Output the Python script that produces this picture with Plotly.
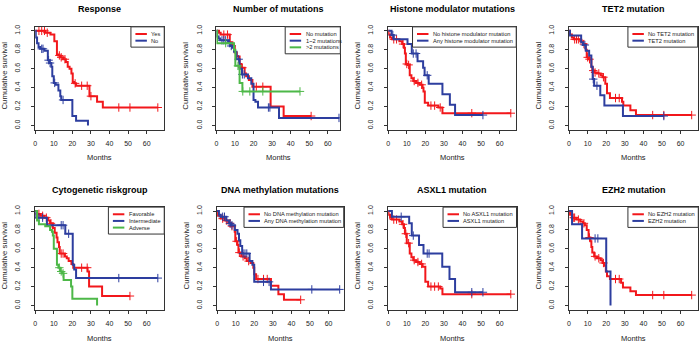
import numpy as np
import plotly.graph_objects as go

W, H = 700, 347
FONT = "Liberation Sans, Arial, Helvetica, sans-serif"
RED, BLUE, GREEN = "#f2171b", "#2d3e9f", "#4db848"
TXT = "#222222"

# ---------------- data ----------------
# Panel 1: Response
resp_yes_t = [0, 5.5, 8.2, 10.3, 11.7, 12.5, 13.5, 15, 16.5, 17.5, 18.5, 19.5, 20.2, 21, 22, 29.2, 33.3, 36.4]
resp_yes_s = [1.0, 0.98, 0.96, 0.89, 0.75, 0.74, 0.72, 0.70, 0.67, 0.62, 0.60, 0.55, 0.46, 0.445, 0.42, 0.31, 0.25, 0.19]
resp_yes_c = [2, 3.5, 5, 6.5, 13, 14, 16, 21.5, 25, 28, 30, 45, 51, 66]
resp_yes_end = 66
resp_no_t = [0, 0.3, 1, 1.8, 2.7, 4.9, 6.8, 7.8, 8.7, 9.2, 10, 11, 12.5, 13.5, 14, 20, 22, 28.4]
resp_no_s = [1.0, 0.93, 0.87, 0.83, 0.81, 0.79, 0.69, 0.66, 0.62, 0.52, 0.45, 0.43, 0.37, 0.31, 0.27, 0.10, 0.05, 0.0]
resp_no_c = [3.5, 4.2, 7.2, 8, 10.5, 15]
resp_no_end = 28.4

# Panel 2: Number of mutations
nmut0_t = [0, 1.4, 2.3, 7.2, 8.6, 9.9, 11, 12.5, 13.4, 15.2, 16, 17.5, 19.4, 29.2, 36.2]
nmut0_s = [1.0, 0.98, 0.96, 0.88, 0.84, 0.77, 0.73, 0.65, 0.61, 0.55, 0.52, 0.48, 0.41, 0.20, 0.10]
nmut0_c = [4, 6, 14, 21.5, 25, 51]
nmut0_end = 51
nmut12_t = [0, 0.4, 1.2, 2, 6.3, 7.7, 8.5, 9.5, 10.8, 12.5, 13.8, 17, 18.8, 20, 21, 22.4, 33.7]
nmut12_s = [1.0, 0.94, 0.92, 0.90, 0.87, 0.84, 0.82, 0.78, 0.70, 0.60, 0.54, 0.50, 0.44, 0.27, 0.25, 0.19, 0.08]
nmut12_c = [3, 4, 5, 7, 8, 12, 14, 15, 28, 28.8, 66]
nmut12_end = 66
nmut3_t = [0, 0.4, 9.5, 10.2, 12.5, 14]
nmut3_s = [1.0, 0.87, 0.80, 0.63, 0.45, 0.36]
nmut3_c = [5, 11.6, 14.2, 18, 25, 45]
nmut3_end = 45

# Panel 3: Histone modulator mutations
hist_no_t = [0, 0.2, 1, 2, 6, 7.5, 8.5, 9, 9.5, 10.5, 11.6, 12.5, 13.5, 15, 17, 18.5, 19, 19.7, 21.5, 27, 29.2]
hist_no_s = [1.0, 0.96, 0.93, 0.91, 0.89, 0.86, 0.82, 0.76, 0.65, 0.64, 0.53, 0.50, 0.47, 0.45, 0.43, 0.40, 0.36, 0.24, 0.21, 0.19, 0.13]
hist_no_c = [3, 4.5, 8, 10, 11, 14, 16, 18, 23, 25, 28, 45, 66]
hist_no_end = 66
hist_any_t = [0, 1.8, 3, 10.4, 12.7, 15.8, 18.8, 19.6, 21.8, 29.2, 33.2, 36]
hist_any_s = [1.0, 0.955, 0.91, 0.86, 0.76, 0.68, 0.61, 0.53, 0.44, 0.33, 0.22, 0.11]
hist_any_c = [2.5, 13.5, 15, 21, 51]
hist_any_end = 51

# Panel 4: TET2 mutation
tet_no_t = [0, 0.5, 1.5, 2.5, 6, 7.5, 9, 9.5, 10.5, 12, 12.5, 13.5, 15, 17, 18, 19.5, 20.4, 22, 28.5, 29.2, 33, 36]
tet_no_s = [1.0, 0.96, 0.93, 0.91, 0.89, 0.86, 0.80, 0.72, 0.70, 0.62, 0.58, 0.56, 0.55, 0.53, 0.51, 0.44, 0.34, 0.29, 0.25, 0.21, 0.16, 0.11]
tet_no_c = [3, 4, 5, 8, 10, 11, 13, 14, 16, 18.5, 25, 27, 45, 51, 66]
tet_no_end = 66
tet_yes_t = [0, 0.5, 6.5, 7.5, 9, 10.8, 12, 12.7, 13.5, 16.8, 19, 29]
tet_yes_s = [1.0, 0.95, 0.88, 0.85, 0.79, 0.74, 0.62, 0.49, 0.42, 0.32, 0.21, 0.10]
tet_yes_c = [8.5, 13, 15, 51]
tet_yes_end = 51

# Panel 5: Cytogenetic riskgroup
cyto_fav_t = [0, 1, 3, 5, 7, 8, 9.5, 10.5, 11.5, 12, 12.8, 13.2, 16, 17, 18, 19.5, 20.5, 28.2, 29, 36]
cyto_fav_s = [1.0, 0.97, 0.95, 0.93, 0.90, 0.87, 0.82, 0.77, 0.72, 0.67, 0.62, 0.55, 0.52, 0.50, 0.47, 0.44, 0.40, 0.36, 0.20, 0.10]
cyto_fav_c = [2, 4, 6, 8.5, 14, 15, 25, 28, 51]
cyto_fav_end = 51
cyto_int_t = [0, 0.5, 6.3, 16.2, 20.2, 21, 22]
cyto_int_s = [1.0, 0.93, 0.85, 0.76, 0.43, 0.38, 0.29]
cyto_int_c = [2, 4, 14, 15, 18, 45, 66]
cyto_int_end = 66
cyto_adv_t = [0, 1, 2, 5.4, 8, 9, 9.5, 10, 11.7, 12.5, 13.5, 14.5, 15.3, 19.3, 20, 33.3]
cyto_adv_s = [1.0, 0.90, 0.86, 0.84, 0.80, 0.78, 0.74, 0.60, 0.43, 0.40, 0.36, 0.34, 0.27, 0.20, 0.07, 0.0]
cyto_adv_c = [13, 14, 15]
cyto_adv_end = 33.3

# Panel 6: DNA methylation mutations
dna_no_t = [0, 0.5, 2, 4, 6, 7.5, 9.5, 9.8, 11, 11.5, 13, 15, 16, 18, 19.5, 20, 21, 29, 33, 36]
dna_no_s = [1.0, 0.95, 0.92, 0.90, 0.87, 0.84, 0.78, 0.68, 0.64, 0.56, 0.52, 0.50, 0.47, 0.45, 0.40, 0.33, 0.28, 0.21, 0.12, 0.06]
dna_no_c = [3, 5, 7, 8, 10.5, 12, 14, 17, 22, 25, 27, 45]
dna_no_end = 45
dna_any_t = [0, 1, 2, 5, 6.5, 7.5, 9.5, 11, 11.8, 12.5, 13.5, 17.5, 19, 20, 29]
dna_any_s = [1.0, 0.96, 0.94, 0.90, 0.87, 0.85, 0.80, 0.76, 0.69, 0.63, 0.55, 0.47, 0.43, 0.25, 0.17]
dna_any_c = [3, 4, 7, 8, 14, 15, 16, 25, 28, 51, 66]
dna_any_end = 66

# Panel 7: ASXL1 mutation
asx_no_t = [0, 0.2, 1, 2, 6, 7.5, 8.5, 9, 10, 11.6, 12.5, 13.5, 15, 17, 18.5, 20, 21.5, 28, 29.2]
asx_no_s = [1.0, 0.96, 0.93, 0.91, 0.89, 0.86, 0.82, 0.76, 0.66, 0.55, 0.51, 0.48, 0.46, 0.44, 0.41, 0.25, 0.20, 0.18, 0.12]
asx_no_c = [3, 4.5, 8, 9.5, 11, 14, 16, 18, 23, 25, 27, 45, 66]
asx_no_end = 66
asx_yes_t = [0, 2, 11.3, 12.7, 16.6, 19, 29.1, 33, 36]
asx_yes_s = [1.0, 0.94, 0.87, 0.74, 0.64, 0.55, 0.41, 0.28, 0.14]
asx_yes_c = [7, 13.5, 21, 22, 45, 51]
asx_yes_end = 51

# Panel 8: EZH2 mutation
ezh_no_t = [0, 0.5, 1.5, 4, 6, 7.5, 8.5, 9.5, 10.5, 11.5, 12, 12.5, 13.5, 15, 17, 18, 19, 19.8, 20.4, 22, 28, 29, 33, 36]
ezh_no_s = [1.0, 0.96, 0.93, 0.91, 0.89, 0.87, 0.85, 0.80, 0.72, 0.68, 0.62, 0.56, 0.52, 0.50, 0.48, 0.45, 0.42, 0.36, 0.31, 0.28, 0.24, 0.19, 0.15, 0.11]
ezh_no_c = [2.5, 3, 5, 8, 11, 14, 16, 18.5, 25, 27, 45, 51, 66]
ezh_no_end = 66
ezh_yes_t = [0, 1.6, 7, 20, 22.3]
ezh_yes_s = [1.0, 0.86, 0.71, 0.36, 0.0]
ezh_yes_c = [14, 15.5]
ezh_yes_end = 22.3

titles = ["Response", "Number of mutations", "Histone modulator mutations", "TET2 mutation",
          "Cytogenetic riskgroup", "DNA methylation mutations", "ASXL1 mutation", "EZH2 mutation"]
x_title = "Months"
y_title = "Cumulative survival"
x_ticks = [0, 10, 20, 30, 40, 50, 60]
y_ticks = [0.0, 0.2, 0.4, 0.6, 0.8, 1.0]
y_ticklabels = ["0.0", "0.2", "0.4", "0.6", "0.8", "1.0"]

panels = [
    [("Yes", RED, resp_yes_t, resp_yes_s, resp_yes_c, resp_yes_end),
     ("No", BLUE, resp_no_t, resp_no_s, resp_no_c, resp_no_end)],
    [("No mutation", RED, nmut0_t, nmut0_s, nmut0_c, nmut0_end),
     ("1~2 mutations", BLUE, nmut12_t, nmut12_s, nmut12_c, nmut12_end),
     (">2 mutations", GREEN, nmut3_t, nmut3_s, nmut3_c, nmut3_end)],
    [("No histone modulator mutation", RED, hist_no_t, hist_no_s, hist_no_c, hist_no_end),
     ("Any histone modulator mutation", BLUE, hist_any_t, hist_any_s, hist_any_c, hist_any_end)],
    [("No TET2 mutation", RED, tet_no_t, tet_no_s, tet_no_c, tet_no_end),
     ("TET2 mutation", BLUE, tet_yes_t, tet_yes_s, tet_yes_c, tet_yes_end)],
    [("Favorable", RED, cyto_fav_t, cyto_fav_s, cyto_fav_c, cyto_fav_end),
     ("Intermediate", BLUE, cyto_int_t, cyto_int_s, cyto_int_c, cyto_int_end),
     ("Adverse", GREEN, cyto_adv_t, cyto_adv_s, cyto_adv_c, cyto_adv_end)],
    [("No DNA methylation mutation", RED, dna_no_t, dna_no_s, dna_no_c, dna_no_end),
     ("Any DNA methylation mutation", BLUE, dna_any_t, dna_any_s, dna_any_c, dna_any_end)],
    [("No ASXL1 mutation", RED, asx_no_t, asx_no_s, asx_no_c, asx_no_end),
     ("ASXL1 mutation", BLUE, asx_yes_t, asx_yes_s, asx_yes_c, asx_yes_end)],
    [("No EZH2 mutation", RED, ezh_no_t, ezh_no_s, ezh_no_c, ezh_no_end),
     ("EZH2 mutation", BLUE, ezh_yes_t, ezh_yes_s, ezh_yes_c, ezh_yes_end)],
]

# ---------------- layout geometry (pixels) ----------------
box_left = [33.3, 215.0, 387.3, 568.7, 33.3, 215.7, 387.3, 568.7]
box_right = [162.7, 339.3, 515.7, 697.7, 162.7, 342.7, 516.0, 698.3]
row_top = [25.0, 206.3]
row_bot = [128.3, 309.3]
title_y = [7.5, 189.3]
months_y = [156.7, 338.7]
legend_left = [129.3, 284.0, 411.7, 627.7, 106.7, 242.7, 442.3, 627.7]
PX_PER_MONTH = 1.863
Y_RANGE = [-0.043, 1.042]


def fx(px):
    return px / W


def fy(py):
    return 1 - py / H


fig = go.Figure()
annotations = []
shapes = []

for i, curves in enumerate(panels):
    row = i // 4
    n = i + 1
    xa = "x" if n == 1 else f"x{n}"
    ya = "y" if n == 1 else f"y{n}"
    L, R = box_left[i], box_right[i]
    T, B = row_top[row], row_bot[row]
    xmax = (R - L) / PX_PER_MONTH

    for name, color, t, s, c, end in curves:
        t_arr = np.array(t, dtype=float)
        s_arr = np.array(s, dtype=float)
        xs = list(t_arr) + [end]
        ys = list(s_arr) + [s_arr[-1]]
        fig.add_trace(go.Scatter(x=xs, y=ys, mode="lines", line=dict(color=color, width=2, shape="hv"),
                                 xaxis=xa, yaxis=ya, showlegend=False, name=name, hoverinfo="skip"))
        c_arr = np.array(c, dtype=float)
        idx = np.searchsorted(t_arr, c_arr, side="right") - 1
        cy = s_arr[idx]
        fig.add_trace(go.Scatter(x=c_arr, y=cy, mode="markers",
                                 marker=dict(symbol="cross-thin", size=6, color=color,
                                             line=dict(width=1, color=color)),
                                 xaxis=xa, yaxis=ya, showlegend=False, name=name, hoverinfo="skip"))

    axis_common = dict(showline=True, mirror=True, linecolor="#333333", linewidth=1,
                       ticks="outside", ticklen=3, tickwidth=1, tickcolor="#333333",
                       showgrid=False, zeroline=False, fixedrange=True,
                       tickfont=dict(family=FONT, size=7, color=TXT))
    fig.layout[("xaxis" if n == 1 else f"xaxis{n}")] = dict(
        domain=[fx(L), fx(R)], range=[0, xmax], anchor=ya, tickvals=x_ticks,
        ticklabelstandoff=4, **axis_common)
    fig.layout[("yaxis" if n == 1 else f"yaxis{n}")] = dict(
        domain=[fy(B), fy(T)], range=Y_RANGE, anchor=xa, tickvals=y_ticks, ticktext=y_ticklabels,
        tickangle=-90, ticklabelstandoff=8, **axis_common)

    cx = (L + R) / 2
    annotations.append(dict(text=f"<b>{titles[i]}</b>", x=fx(cx), y=fy(title_y[row]), xref="paper", yref="paper",
                            showarrow=False, xanchor="center", yanchor="middle",
                            font=dict(family=FONT, size=9, color="#000000")))
    annotations.append(dict(text=x_title, x=fx(cx), y=fy(months_y[row]), xref="paper", yref="paper",
                            showarrow=False, xanchor="center", yanchor="middle",
                            font=dict(family=FONT, size=7.5, color=TXT)))
    annotations.append(dict(text=y_title, x=fx(L - 31), y=fy((T + B) / 2 - 3), xref="paper", yref="paper",
                            showarrow=False, xanchor="center", yanchor="middle", textangle=-90,
                            font=dict(family=FONT, size=7.8, color=TXT)))

    # legend box (R style)
    lg_l = legend_left[i]
    nitems = len(curves)
    lg_h = 7.0 + 6.7 * nitems
    shapes.append(dict(type="rect", xref="paper", yref="paper", x0=fx(lg_l), x1=fx(R), y0=fy(T + lg_h), y1=fy(T),
                       line=dict(color="#333333", width=1), fillcolor="white", layer="above"))
    for k, (name, color, *_rest) in enumerate(curves):
        yy = T + 7.2 + 6.7 * k
        shapes.append(dict(type="line", xref="paper", yref="paper", x0=fx(lg_l + 4.5), x1=fx(lg_l + 16),
                           y0=fy(yy), y1=fy(yy), line=dict(color=color, width=2), layer="above"))
        annotations.append(dict(text=name, x=fx(lg_l + 18.5), y=fy(yy), xref="paper", yref="paper",
                                showarrow=False, xanchor="left", yanchor="middle",
                                font=dict(family=FONT, size=5.7, color=TXT)))

fig.update_layout(width=W, height=H, margin=dict(l=0, r=0, t=0, b=0),
                  paper_bgcolor="white", plot_bgcolor="white",
                  font=dict(family=FONT, color=TXT),
                  annotations=annotations, shapes=shapes, showlegend=False)

fig.write_html("out.html", config={"displayModeBar": False, "staticPlot": True},
               post_script="document.body.style.margin='0';document.body.style.overflow='hidden';")
